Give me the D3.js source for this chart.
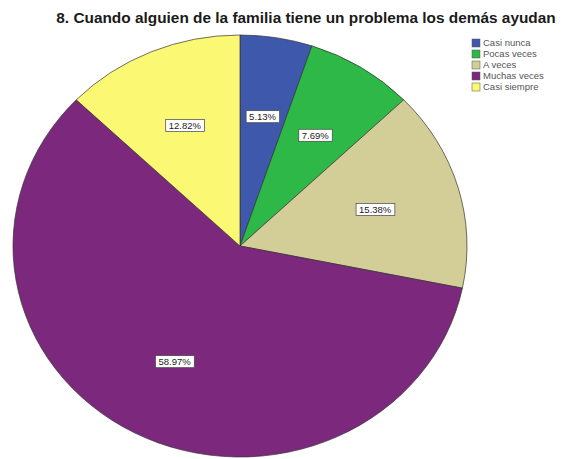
<!DOCTYPE html>
<html>
<head>
<meta charset="utf-8">
<script src="https://cdn.jsdelivr.net/npm/d3@7"></script>
<style>
  html, body { margin: 0; padding: 0; background: #fff; }
  svg { display: block; }
</style>
</head>
<body>
<svg id="chart" width="569" height="459"></svg>
<script>
// Response categories and their percentage share
const categories = ["Casi nunca", "Pocas veces", "A veces", "Muchas veces", "Casi siempre"];
const percents = [5.13, 7.69, 15.38, 58.97, 12.82];
const colors = ["#3E58AC", "#2EB848", "#D3CE97", "#7C287D", "#FBF873"];
const title = "8. Cuando alguien de la familia tiene un problema los demás ayudan";

const svg = d3.select("#chart");

// Pie geometry (slightly flattened ellipse)
const cx = 240, cy = 246, rx = 227, ry = 211;

svg.append("text")
  .attr("x", 306).attr("y", 23)
  .attr("text-anchor", "middle")
  .attr("font-family", "Liberation Sans, Arial, sans-serif")
  .attr("font-weight", "bold")
  .attr("font-size", 15.4)
  .attr("fill", "#1a1a1a")
  .text(title);

const color = d3.scaleOrdinal().domain(categories).range(colors);

const data = categories.map((c, i) => ({ cat: c, v: percents[i] }));
const pie = d3.pie().value(d => d.v).sort(null).startAngle(0).endAngle(2 * Math.PI);
const arcs = pie(data);

const arc = d3.arc().innerRadius(0).outerRadius(rx);

const pieG = svg.append("g")
  .attr("transform", `translate(${cx},${cy}) scale(1,${ry / rx})`);

pieG.selectAll("path")
  .data(arcs)
  .join("path")
  .attr("d", arc)
  .attr("fill", d => color(d.data.cat))
  .attr("stroke", "#333")
  .attr("stroke-width", 0.7)
  .attr("vector-effect", "non-scaling-stroke");

// Value labels in white boxes
const labelFrac = 0.62;
const labG = svg.append("g");
arcs.forEach(d => {
  const a = (d.startAngle + d.endAngle) / 2;
  const x = cx + Math.sin(a) * rx * labelFrac;
  const y = cy - Math.cos(a) * ry * labelFrac;
  const txt = d.data.v.toFixed(2) + "%";
  const g = labG.append("g").attr("transform", `translate(${x},${y})`);
  const t = g.append("text")
    .attr("text-anchor", "middle")
    .attr("dy", "0.35em")
    .attr("font-family", "Liberation Sans, Arial, sans-serif")
    .attr("font-size", 9.5)
    .attr("fill", "#222")
    .text(txt);
  const bb = t.node().getBBox();
  g.insert("rect", "text")
    .attr("x", bb.x - 3).attr("y", bb.y - 0.5)
    .attr("width", bb.width + 6).attr("height", bb.height + 1)
    .attr("fill", "#fff")
    .attr("stroke", "#444")
    .attr("stroke-width", 0.7);
});

// Legend
const legY = d3.scaleBand().domain(categories).range([38, 93]);
const leg = svg.append("g").attr("transform", "translate(472,0)");
categories.forEach(c => {
  const y = legY(c);
  leg.append("rect")
    .attr("x", 0).attr("y", y + 1)
    .attr("width", 8).attr("height", 8)
    .attr("fill", color(c))
    .attr("stroke", "#555").attr("stroke-width", 0.5);
  leg.append("text")
    .attr("x", 11).attr("y", y + 5)
    .attr("dy", "0.35em")
    .attr("font-family", "Liberation Sans, Arial, sans-serif")
    .attr("font-size", 9.5)
    .attr("fill", "#555")
    .text(c);
});
</script>
</body>
</html>
